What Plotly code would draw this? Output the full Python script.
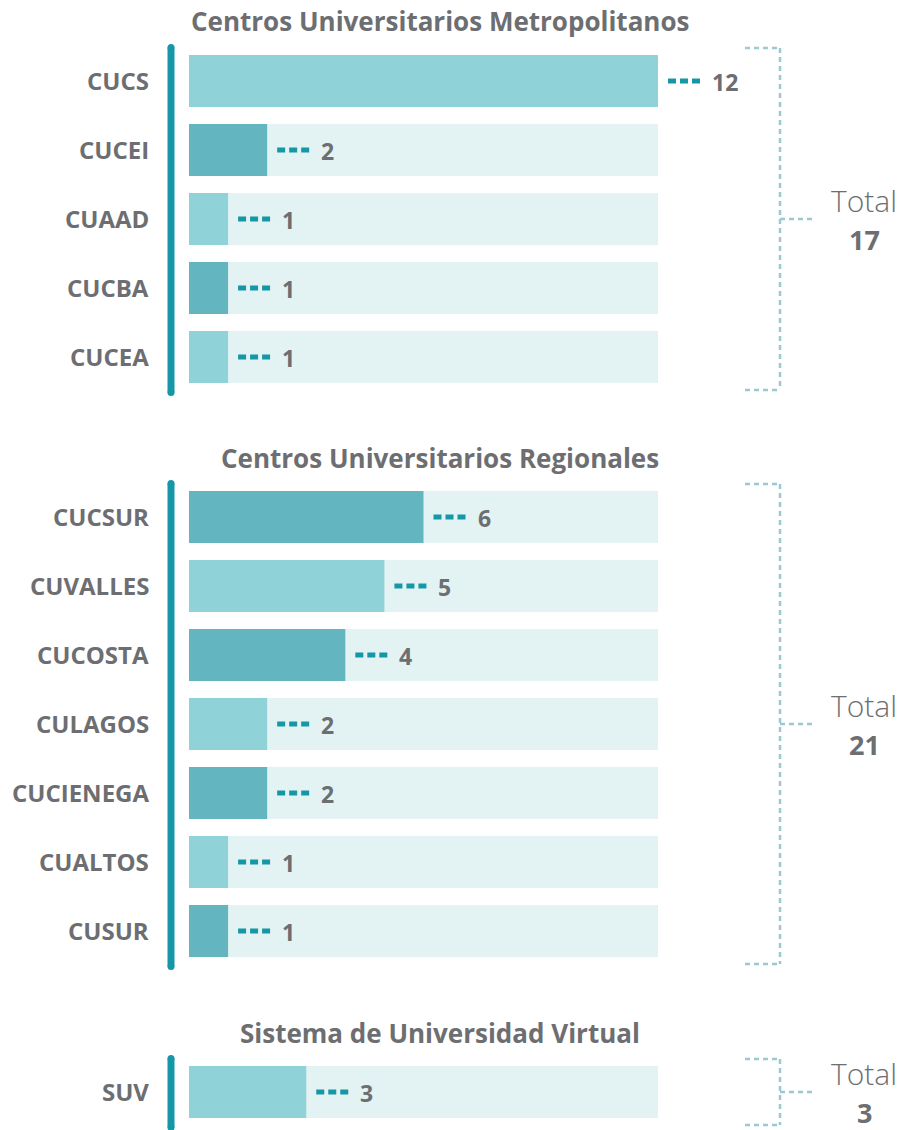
import plotly.graph_objects as go

# ---- data ----
metro_cats = ["CUCS", "CUCEI", "CUAAD", "CUCBA", "CUCEA"]
metro_vals = [12, 2, 1, 1, 1]
reg_cats = ["CUCSUR", "CUVALLES", "CUCOSTA", "CULAGOS", "CUCIENEGA", "CUALTOS", "CUSUR"]
reg_vals = [6, 5, 4, 2, 2, 1, 1]
suv_cats = ["SUV"]
suv_vals = [3]
titles = ["Centros Universitarios Metropolitanos",
          "Centros Universitarios Regionales",
          "Sistema de Universidad Virtual"]
scale_max = 12

# ---- style ----
W, H = 905, 1130
FONT = "Open Sans"
GREY = "#6D6E71"
LIGHT = "#8FD3D8"
DARK = "#63B5C0"
BG = "#E3F3F3"
TEAL = "#1597A7"
BRACKET = "#9CC8D2"
X0PX, X12PX = 189, 658
UNIT = (X12PX - X0PX) / scale_max
PITCH = 69.0
BAR_FRAC = 52 / 69.0


def py(p):
    return 1 - p / H


def pxp(p):
    return p / W


sections = [
    (metro_cats, metro_vals, 46.5, "y"),
    (reg_cats, reg_vals, 482.5, "y2"),
    (suv_cats, suv_vals, 1057.5, "y3"),
]

fig = go.Figure()
shapes = []
annotations = []
layout_axes = {}
color_start = [0, 1, 0]

for si, (cats, vals, top, yname) in enumerate(sections):
    n = len(cats)
    bottom = top + n * PITCH
    axkey = "yaxis" if yname == "y" else "yaxis" + yname[1:]
    layout_axes[axkey] = dict(
        domain=[py(bottom), py(top)], anchor="x", visible=False,
        type="category", categoryorder="array", categoryarray=cats,
        range=[n - 0.5, -0.5], fixedrange=True,
    )
    colors = [LIGHT if (i + color_start[si]) % 2 == 0 else DARK for i in range(n)]
    fig.add_trace(go.Bar(
        x=[scale_max] * n, y=cats, orientation="h", yaxis=yname, xaxis="x",
        marker=dict(color=BG, line=dict(width=0)), width=BAR_FRAC,
        hoverinfo="skip", showlegend=False,
    ))
    fig.add_trace(go.Bar(
        x=vals, y=cats, orientation="h", yaxis=yname, xaxis="x",
        marker=dict(color=colors, line=dict(width=0)), width=BAR_FRAC,
        showlegend=False,
    ))
    for c, v in zip(cats, vals):
        shapes.append(dict(
            type="line", xref="x", yref=yname,
            x0=v + 10 / UNIT, x1=v + 42 / UNIT, y0=c, y1=c,
            line=dict(color=TEAL, width=5, dash="8px,4px"), layer="above",
        ))
        annotations.append(dict(
            x=v, xref="x", y=c, yref=yname, xanchor="left", yanchor="middle",
            xshift=52, yshift=-1, text=str(v), showarrow=False,
            font=dict(family=FONT, size=23, color=GREY, weight="bold"),
        ))
        annotations.append(dict(
            x=pxp(151), xref="paper", y=c, yref=yname, xanchor="right",
            yanchor="middle", yshift=1, text=c, showarrow=False,
            font=dict(family=FONT, size=24, color=GREY, weight="bold"),
        ))
    # section title
    annotations.append(dict(
        x=pxp(440), xref="paper", y=py(top - 25), yref="paper",
        xanchor="center", yanchor="middle", text=titles[si], showarrow=False,
        font=dict(family=FONT, size=26, color=GREY, weight="bold"),
    ))
    # vertical teal line with rounded ends
    lt, lb = top + 1, min(bottom + 1, H + 20)
    shapes.append(dict(type="line", xref="paper", yref="paper",
                       x0=pxp(171), x1=pxp(171), y0=py(lt), y1=py(lb),
                       line=dict(color=TEAL, width=7)))
    for yy in (lt, lb):
        shapes.append(dict(type="circle", xref="paper", yref="paper",
                           x0=pxp(167.5), x1=pxp(174.5),
                           y0=py(yy - 3.5), y1=py(yy + 3.5),
                           fillcolor=TEAL, line=dict(width=0)))
    # bracket
    btop, bbot = top + 1.5, bottom - 1.5
    mid = (top + bottom) / 2
    bl = dict(color=BRACKET, width=2.5, dash="5px,4px")
    shapes.append(dict(type="line", xref="paper", yref="paper",
                       x0=pxp(745), x1=pxp(780), y0=py(btop), y1=py(btop), line=bl))
    shapes.append(dict(type="line", xref="paper", yref="paper",
                       x0=pxp(780), x1=pxp(780), y0=py(btop), y1=py(bbot), line=bl))
    shapes.append(dict(type="line", xref="paper", yref="paper",
                       x0=pxp(745), x1=pxp(780), y0=py(bbot), y1=py(bbot), line=bl))
    shapes.append(dict(type="line", xref="paper", yref="paper",
                       x0=pxp(780), x1=pxp(812), y0=py(mid), y1=py(mid), line=bl))
    annotations.append(dict(
        x=pxp(864), xref="paper", y=py(mid - 19), yref="paper",
        xanchor="center", yanchor="middle", text="Total", showarrow=False,
        font=dict(family=FONT, size=30, color=GREY, weight=300),
    ))
    annotations.append(dict(
        x=pxp(864), xref="paper", y=py(mid + 20), yref="paper",
        xanchor="center", yanchor="middle", text=str(sum(vals)), showarrow=False,
        font=dict(family=FONT, size=27, color=GREY, weight="bold"),
    ))

fig.update_layout(
    width=W, height=H, margin=dict(l=0, r=0, t=0, b=0),
    paper_bgcolor="white", plot_bgcolor="white", barmode="overlay",
    xaxis=dict(domain=[0, 1], range=[-X0PX / UNIT, (W - X0PX) / UNIT],
               visible=False, fixedrange=True, anchor="y"),
    shapes=shapes, annotations=annotations, showlegend=False,
    **layout_axes,
)

fig.write_html("out.html", config={"displayModeBar": False},
               post_script="document.body.style.margin='0';"
                           "document.body.style.overflow='hidden';")
